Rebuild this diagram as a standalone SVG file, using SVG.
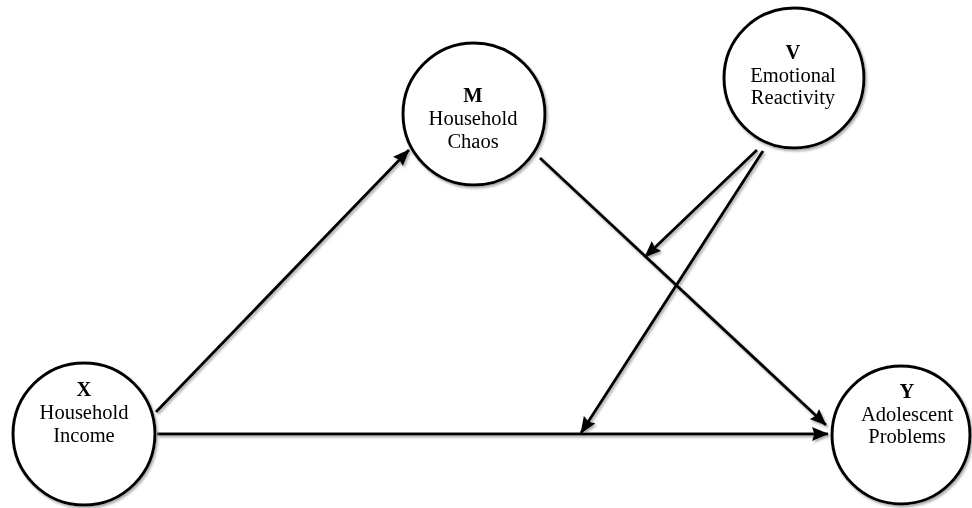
<svg xmlns="http://www.w3.org/2000/svg" width="972" height="508" viewBox="0 0 972 508">
  <defs>
    <filter id="sh" x="-10%" y="-10%" width="120%" height="120%">
      <feDropShadow dx="1.5" dy="2" stdDeviation="0.8" flood-color="#9a9a9a" flood-opacity="0.8"/>
    </filter>
    <marker id="arr" viewBox="0 0 16 13" refX="15" refY="6.5" markerWidth="17" markerHeight="14" markerUnits="userSpaceOnUse" orient="auto">
      <path d="M0,0 L16,6.5 L0,13 L2,6.5 Z" fill="#000"/>
    </marker>
  </defs>
  <style>
    .node circle { fill: #fff; stroke: #000; stroke-width: 3; }
    .node text { font-family: "Liberation Serif", "Times New Roman", serif; font-size: 20.5px; text-anchor: middle; fill: #000; }
    .node text.b { font-weight: bold; }
    .edge { fill: none; stroke: #000; stroke-width: 3; marker-end: url(#arr); }
  </style>
  <rect width="972" height="508" fill="#fff"/>
  <g id="connectors" filter="url(#sh)">
    <line class="edge" x1="156" y1="412" x2="409" y2="150"/>
    <line class="edge" x1="157" y1="434" x2="828" y2="434"/>
    <line class="edge" x1="540" y1="158" x2="826" y2="425"/>
    <line class="edge" x1="757" y1="150" x2="645" y2="257"/>
    <line class="edge" x1="763" y1="151" x2="581" y2="433"/>
  </g>
  <g id="node-X" class="node" filter="url(#sh)">
    <circle cx="84" cy="434" r="71"/>
    <text class="b" x="84" y="396">X</text>
    <text x="84" y="419">Household</text>
    <text x="84" y="442">Income</text>
  </g>
  <g id="node-M" class="node" filter="url(#sh)">
    <circle cx="474" cy="114" r="71"/>
    <text class="b" x="473" y="102">M</text>
    <text x="473" y="125">Household</text>
    <text x="473" y="148">Chaos</text>
  </g>
  <g id="node-V" class="node" filter="url(#sh)">
    <circle cx="794" cy="78" r="70"/>
    <text class="b" x="793" y="59">V</text>
    <text x="793" y="82">Emotional</text>
    <text x="793" y="104">Reactivity</text>
  </g>
  <g id="node-Y" class="node" filter="url(#sh)">
    <circle cx="901" cy="435" r="69"/>
    <text class="b" x="907" y="398">Y</text>
    <text x="907" y="421">Adolescent</text>
    <text x="907" y="443">Problems</text>
  </g>
</svg>
